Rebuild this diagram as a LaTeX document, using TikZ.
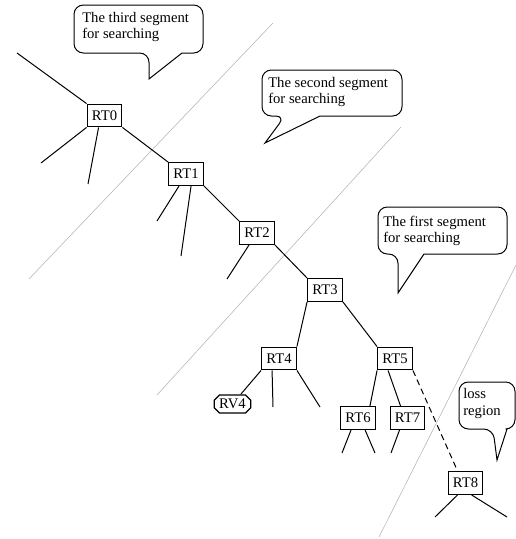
\documentclass[tikz,border=0pt]{standalone}
\usepackage{fontspec}
\setmainfont{Liberation Serif}
\usetikzlibrary{shapes.misc,calc}
\begin{document}
\begin{tikzpicture}[x=0.75pt,y=-0.75pt,
  rt/.style={draw,line width=0.9pt,minimum width=26pt,minimum height=17pt,inner sep=0pt,font=\fontsize{11}{13}\selectfont},
  rv/.style={draw,line width=0.9pt,chamfered rectangle,chamfered rectangle xsep=2pt,chamfered rectangle ysep=2pt,minimum width=27.5pt,minimum height=13.5pt,inner sep=0pt,font=\fontsize{11}{13}\selectfont},
  edge/.style={line width=0.75pt},
  seg/.style={line width=0.4pt,gray!60},
  balloon/.style={line width=0.75pt},
  ctext/.style={anchor=base west,inner sep=0pt,font=\fontsize{11}{13}\selectfont}]
\useasboundingbox (0,0) rectangle (516,539);

% segment separators
\draw[seg] (29,279) -- (273,23);
\draw[seg] (157,395) -- (401,127);
\draw[seg] (379,537) -- (516,265);

% callouts
\draw[balloon] (149,79) -- (182,53) [rounded corners=7] -- (203,53) -- (203,5) -- (74,5) -- (74,53) -- (149,53) [sharp corners] -- cycle;
\node[ctext] (c1a) at (82,22) {The third segment};
\node[ctext] (c1b) at (82,38) {for searching};

\draw[balloon] (265,143) -- (320,116) [rounded corners=7] -- (402,116) -- (402,70) -- (262,70) -- (262,116) -- (285,116) [sharp corners] -- cycle;
\node[ctext] (c2a) at (268,87) {The second segment};
\node[ctext] (c2b) at (268,103) {for searching};

\draw[balloon] (398,293) -- (424,254) [rounded corners=7] -- (507,254) -- (507,207) -- (378,207) -- (378,254) -- (398,254) [sharp corners] -- cycle;
\node[ctext] (c3a) at (383,226) {The first segment};
\node[ctext] (c3b) at (383,242) {for searching};

\draw[balloon] (497,460) -- (507,429) [rounded corners=7] -- (515,429) -- (515,382) -- (459,382) -- (459,429) -- (493,429) [sharp corners] -- cycle;
\node[ctext] (c4a) at (463,398) {loss};
\node[ctext] (c4b) at (463,415) {region};

% tree nodes
\node[rt] (RT0) at (104.5,115.5) {RT0};
\node[rt] (RT1) at (186,174) {RT1};
\node[rt] (RT2) at (257,233) {RT2};
\node[rt] (RT3) at (325,290) {RT3};
\node[rt] (RT4) at (279,358.5) {RT4};
\node[rt] (RT5) at (395,358.5) {RT5};
\node[rt] (RT6) at (358,418) {RT6};
\node[rt] (RT7) at (407.5,418) {RT7};
\node[rt] (RT8) at (465.5,483) {RT8};
\node[rv] (RV4) at (232.5,404) {RV4};

% free ends
\coordinate (up0) at (17,53);
\coordinate (l0a) at (41,163);
\coordinate (l0b) at (88,184);
\coordinate (l1a) at (157,221);
\coordinate (l1b) at (181,256);
\coordinate (l2a) at (227,279);
\coordinate (l4b) at (273,407);
\coordinate (l4c) at (320,407);
\coordinate (l6a) at (342,453);
\coordinate (l6b) at (375,453);
\coordinate (l7a) at (391,453);
\coordinate (l8a) at (435,517);
\coordinate (l8b) at (507,517);

% edges
\draw[edge] (up0) -- (RT0.north west);
\draw[edge] (RT0.south west) -- (l0a);
\draw[edge] ([xshift=9pt]RT0.south west) -- (l0b);
\draw[edge] (RT0.south east) -- (RT1.north west);
\draw[edge] ([xshift=8.25pt]RT1.south west) -- (l1a);
\draw[edge] ([xshift=17.25pt]RT1.south west) -- (l1b);
\draw[edge] (RT1.south east) -- (RT2.north west);
\draw[edge] ([xshift=7.5pt]RT2.south west) -- (l2a);
\draw[edge] (RT2.south east) -- (RT3.north west);
\draw[edge] (RT3.south west) -- (RT4.north east);
\draw[edge] (RT3.south east) -- (RT5.north west);
\draw[edge] (RT4.south west) -- (RV4);
\draw[edge] ([xshift=8.25pt]RT4.south west) -- (l4b);
\draw[edge] (RT4.south east) -- (l4c);
\draw[edge] (RT5.south west) -- ([xshift=-4.5pt]RT6.north east);
\draw[edge] ([xshift=8.25pt]RT5.south west) -- ([xshift=8.25pt]RT7.north west);
\draw[edge,dash pattern=on 4.5pt off 3pt] (RT5.south east) -- ([xshift=7.5pt]RT8.north west);
\draw[edge] ([xshift=8.25pt]RT6.south west) -- (l6a);
\draw[edge] ([xshift=18.75pt]RT6.south west) -- (l6b);
\draw[edge] ([xshift=7.5pt]RT7.south west) -- (l7a);
\draw[edge] ([xshift=7.5pt]RT8.south west) -- (l8a);
\draw[edge] ([xshift=18pt]RT8.south west) -- (l8b);
\end{tikzpicture}
\end{document}
